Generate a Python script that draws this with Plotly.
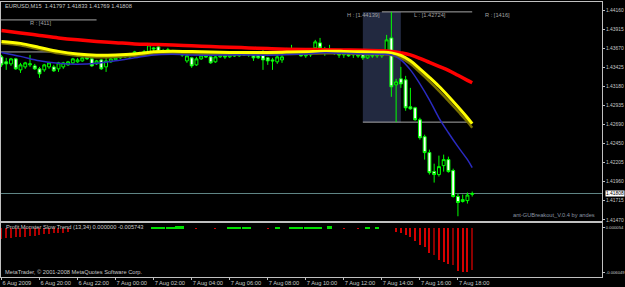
import pandas as pd
import plotly.graph_objects as go

# ---------------- data ----------------
times = pd.date_range("2009-08-06 18:00", periods=100, freq="15min")

open_ = [1.43562, 1.43498, 1.43472, 1.43536, 1.43395, 1.43433, 1.43459, 1.43446, 1.43408, 1.43395,
         1.43433, 1.43433, 1.43408, 1.43433, 1.43459, 1.43485, 1.43498, 1.43510, 1.43562, 1.43536,
         1.43472, 1.43523, 1.43433, 1.43498, 1.43523, 1.43549, 1.43562, 1.43562, 1.43575, 1.43613,
         1.43613, 1.43626, 1.43677, 1.43690, 1.43626, 1.43639, 1.43639, 1.43613, 1.43600, 1.43510,
         1.43549, 1.43459, 1.43536, 1.43575, 1.43562, 1.43498, 1.43562, 1.43575, 1.43562, 1.43587,
         1.43575, 1.43600, 1.43587, 1.43587, 1.43587, 1.43587, 1.43549, 1.43523, 1.43498, 1.43523,
         1.43613, 1.43626, 1.43613, 1.43613, 1.43575, 1.43587, 1.43677, 1.43741, 1.43651, 1.43639,
         1.43626, 1.43600, 1.43587, 1.43613, 1.43587, 1.43587, 1.43613, 1.43549, 1.43587, 1.43575,
         1.43575, 1.43626, 1.43805, 1.43203, 1.43280, 1.43267, 1.42921, 1.42908, 1.42755, 1.42537,
         1.42333, 1.42089, 1.42051, 1.42166, 1.42243, 1.42102, 1.41769, 1.41705, 1.41717, 1.41797]
high_ = [1.43587, 1.43549, 1.43549, 1.43549, 1.43485, 1.43498, 1.43587, 1.43472, 1.43433, 1.43472,
         1.43498, 1.43459, 1.43498, 1.43498, 1.43510, 1.43549, 1.43549, 1.43562, 1.43575, 1.43549,
         1.43523, 1.43536, 1.43562, 1.43549, 1.43562, 1.43587, 1.43600, 1.43613, 1.43639, 1.43626,
         1.43651, 1.43728, 1.43690, 1.43703, 1.43664, 1.43677, 1.43651, 1.43639, 1.43626, 1.43600,
         1.43562, 1.43562, 1.43587, 1.43600, 1.43575, 1.43575, 1.43600, 1.43600, 1.43613, 1.43613,
         1.43613, 1.43626, 1.43626, 1.43613, 1.43600, 1.43651, 1.43562, 1.43549, 1.43587, 1.43587,
         1.43677, 1.43716, 1.43639, 1.43626, 1.43613, 1.43639, 1.43780, 1.43805, 1.43690, 1.43716,
         1.43651, 1.43626, 1.43613, 1.43626, 1.43626, 1.43613, 1.43626, 1.43600, 1.43600, 1.43600,
         1.43626, 1.43844, 1.44139, 1.43280, 1.43433, 1.43318, 1.43164, 1.42921, 1.42780, 1.42563,
         1.42371, 1.42191, 1.42294, 1.42307, 1.42281, 1.42127, 1.41807, 1.41794, 1.41820, 1.41833]
low_ = [1.43433, 1.43395, 1.43446, 1.43395, 1.43356, 1.43408, 1.43433, 1.43395, 1.43292, 1.43369,
        1.43408, 1.43369, 1.43369, 1.43408, 1.43446, 1.43472, 1.43485, 1.43498, 1.43523, 1.43433,
        1.43459, 1.43395, 1.43369, 1.43485, 1.43510, 1.43536, 1.43549, 1.43549, 1.43562, 1.43587,
        1.43587, 1.43613, 1.43613, 1.43613, 1.43600, 1.43613, 1.43600, 1.43587, 1.43562, 1.43485,
        1.43421, 1.43446, 1.43523, 1.43549, 1.43472, 1.43485, 1.43549, 1.43536, 1.43549, 1.43562,
        1.43562, 1.43575, 1.43562, 1.43510, 1.43536, 1.43395, 1.43459, 1.43395, 1.43472, 1.43485,
        1.43587, 1.43600, 1.43587, 1.43562, 1.43549, 1.43562, 1.43651, 1.43651, 1.43575, 1.43626,
        1.43587, 1.43549, 1.43549, 1.43562, 1.43549, 1.43549, 1.43523, 1.43536, 1.43549, 1.43549,
        1.43549, 1.43613, 1.43049, 1.42724, 1.43164, 1.42870, 1.42883, 1.42742, 1.42499, 1.42243,
        1.42051, 1.41948, 1.42025, 1.42089, 1.42076, 1.41756, 1.41516, 1.41692, 1.41679, 1.41769]
close_ = [1.43459, 1.43472, 1.43536, 1.43408, 1.43459, 1.43485, 1.43472, 1.43408, 1.43344, 1.43459,
          1.43485, 1.43382, 1.43485, 1.43485, 1.43498, 1.43536, 1.43523, 1.43549, 1.43536, 1.43446,
          1.43510, 1.43408, 1.43510, 1.43536, 1.43549, 1.43575, 1.43575, 1.43587, 1.43626, 1.43600,
          1.43626, 1.43716, 1.43664, 1.43626, 1.43639, 1.43651, 1.43613, 1.43626, 1.43587, 1.43575,
          1.43446, 1.43536, 1.43575, 1.43562, 1.43485, 1.43562, 1.43575, 1.43562, 1.43587, 1.43575,
          1.43600, 1.43587, 1.43600, 1.43549, 1.43549, 1.43523, 1.43510, 1.43510, 1.43562, 1.43562,
          1.43626, 1.43639, 1.43600, 1.43575, 1.43587, 1.43613, 1.43754, 1.43677, 1.43639, 1.43651,
          1.43613, 1.43587, 1.43600, 1.43575, 1.43600, 1.43575, 1.43549, 1.43587, 1.43575, 1.43587,
          1.43600, 1.43780, 1.43177, 1.43241, 1.43215, 1.42908, 1.42895, 1.42755, 1.42524, 1.42333,
          1.42076, 1.42051, 1.42153, 1.42243, 1.42089, 1.41769, 1.41692, 1.41730, 1.41788, 1.41808]

# moving averages, read at these bar indices
ma_bars = [0, 4, 8, 12, 16, 20, 24, 28, 32, 36, 40, 44, 48, 52, 56, 60, 64, 68, 72, 76, 80,
           82, 84, 86, 88, 90, 92, 94, 96, 98, 99]
ma_red = [1.43899, 1.43869, 1.43837, 1.43805, 1.43780, 1.43760, 1.43744, 1.43728, 1.43721, 1.43713,
          1.43703, 1.43694, 1.43686, 1.43677, 1.43668, 1.43660, 1.43656, 1.43654, 1.43651, 1.43648,
          1.43641, 1.43632, 1.43613, 1.43587, 1.43543, 1.43491, 1.43440, 1.43389, 1.43325, 1.43260,
          1.43229]
ma_yellow = [1.43760, 1.43735, 1.43683, 1.43632, 1.43600, 1.43584, 1.43587, 1.43600, 1.43626, 1.43635,
             1.43630, 1.43623, 1.43619, 1.43619, 1.43619, 1.43623, 1.43628, 1.43635, 1.43632, 1.43626,
             1.43622, 1.43613, 1.43581, 1.43511, 1.43408, 1.43299, 1.43184, 1.43056, 1.42921, 1.42780,
             1.42704]
ma_olive = [1.43735, 1.43709, 1.43658, 1.43607, 1.43575, 1.43558, 1.43562, 1.43575, 1.43600, 1.43609,
            1.43604, 1.43598, 1.43594, 1.43594, 1.43594, 1.43598, 1.43603, 1.43609, 1.43607, 1.43600,
            1.43596, 1.43587, 1.43549, 1.43472, 1.43363, 1.43248, 1.43126, 1.42998, 1.42864, 1.42729,
            1.42652]
ma_blue = [1.43619, 1.43568, 1.43511, 1.43479, 1.43468, 1.43479, 1.43511, 1.43549, 1.43587, 1.43594,
           1.43587, 1.43584, 1.43587, 1.43587, 1.43584, 1.43591, 1.43600, 1.43613, 1.43607, 1.43600,
           1.43596, 1.43587, 1.43523, 1.43395, 1.43216, 1.43011, 1.42780, 1.42588, 1.42409, 1.42242,
           1.42140]

# breakout box and levels
box_high = 1.44139
box_low = 1.42724
prev_high = 1.44036
prev_low = 1.43625
last_price = 1.41808

# indicator (Profit Monster Slow Trend) histogram
ind_red = [-0.00150, -0.00143, -0.00136, -0.00129, -0.00122, -0.00116, -0.00109, -0.00102, -0.00095, -0.00088,
           -0.00081, -0.00074, -0.00067, -0.00061, -0.00054, 0, 0, 0, 0, 0,
           0, 0, 0, 0, 0, 0, 0, 0, 0, 0,
           0, 0, 0, 0, 0, 0, 0, 0, 0, 0,
           0, -0.00008, 0, 0, 0, -0.00008, 0, 0, 0, 0,
           0, 0, 0, 0, 0, 0, -0.00008, 0, 0, 0,
           0, 0, 0, 0, 0, 0, 0, 0, 0, 0,
           0, 0, -0.00008, 0, 0, -0.00008, 0, 0, 0, 0,
           0, 0, 0, -0.00050, -0.00063, -0.00095, -0.00127, -0.00173, -0.00233, -0.00264,
           -0.00347, -0.00370, -0.00439, -0.00462, -0.00494, -0.00508, -0.00586, -0.00600, -0.006049, -0.005743]
ind_green = [0, 0, 0, 0, 0, 0, 0, 0, 0, 0,
             0, 0, 0, 0, 0, 0, 0, 0, 0, 0,
             0, 0, 0, 0, 0, 0, 0, 0, 0, 0,
             0, 0, 0.00018, 0.00018, 0.00018, 0.00018, 0.00018, 0.00026, 0.00026, 0,
             0, 0, 0, 0, 0, 0, 0, 0, 0.00014, 0.00014,
             0.00014, 0.00014, 0.00008, 0, 0, 0, 0, 0, 0.00008, 0,
             0, 0.00014, 0.00014, 0.00014, 0.00014, 0.00018, 0.00018, 0.00018, 0, 0.00024,
             0, 0, 0, 0, 0, 0, 0, 0.00008, 0, 0.00008,
             0, 0, 0, 0, 0, 0, 0, 0, 0, 0,
             0, 0, 0, 0, 0, 0, 0, 0, 0, 0]
dark_red_bars = [91, 95, 99]

price_ticks = [1.44160, 1.43915, 1.43670, 1.43425, 1.43180, 1.42935, 1.42690, 1.42450,
               1.42205, 1.41960, 1.41715, 1.41470]
ind_ticks = [0.000054, -0.006049]
ind_tick_text = ["0.000054", "-0.006049"]
time_tick_bars = [0, 8, 16, 24, 32, 40, 48, 56, 64, 72, 80, 88, 96]
time_tick_text = ["6 Aug 2009", "6 Aug 20:00", "6 Aug 22:00", "7 Aug 00:00", "7 Aug 02:00",
                  "7 Aug 04:00", "7 Aug 06:00", "7 Aug 08:00", "7 Aug 10:00", "7 Aug 12:00",
                  "7 Aug 14:00", "7 Aug 16:00", "7 Aug 18:00"]

# ---------------- figure ----------------
W, H = 625, 287
ML, MR, MT, MB = 1, 23, 2, 10
PW, PH = W - ML - MR, H - MT - MB
FONT = "Liberation Sans"
FS = 5.7
FS_AX = 4.9
FS_IND = 4.2
TXT = "#c8c8c8"
GRID = "#c0c0c0"
bar = pd.Timedelta(minutes=15)


def px(x):
    return (x - ML) / PW


def py(y):
    return 1 - (y - MT) / PH


fig = go.Figure()

ma_x = [times[i] for i in ma_bars]
fig.add_trace(go.Candlestick(
    x=times, open=open_, high=high_, low=low_, close=close_,
    increasing=dict(line=dict(color="#00ff00", width=1), fillcolor="#000000"),
    decreasing=dict(line=dict(color="#00ff00", width=1), fillcolor="#ffffff"),
    whiskerwidth=0, showlegend=False, xaxis="x", yaxis="y"))
fig.add_trace(go.Scatter(x=ma_x, y=ma_red, mode="lines", line=dict(color="#ff0000", width=3.5, shape="spline"),
                         showlegend=False, xaxis="x", yaxis="y"))
fig.add_trace(go.Scatter(x=ma_x, y=ma_olive, mode="lines", line=dict(color="#7a7000", width=2.5, shape="spline"),
                         showlegend=False, xaxis="x", yaxis="y"))
fig.add_trace(go.Scatter(x=ma_x, y=ma_yellow, mode="lines", line=dict(color="#ffff00", width=3, shape="spline"),
                         showlegend=False, xaxis="x", yaxis="y"))
fig.add_trace(go.Scatter(x=ma_x, y=ma_blue, mode="lines", line=dict(color="#2a2ac0", width=1.5, shape="spline"),
                         showlegend=False, xaxis="x", yaxis="y"))

red_cols = ["#8b0000" if i in dark_red_bars else ("#b00000" if i < 20 else "#d40000") for i in range(len(times))]
fig.add_trace(go.Bar(x=times, y=ind_green, marker=dict(color="#00e000", line=dict(width=0)),
                     width=[0.95 * bar.total_seconds() * 1000] * len(times),
                     showlegend=False, xaxis="x2", yaxis="y2"))
fig.add_trace(go.Bar(x=times, y=ind_red, marker=dict(color=red_cols, line=dict(width=0)),
                     width=[0.24 * bar.total_seconds() * 1000] * len(times),
                     showlegend=False, xaxis="x2", yaxis="y2"))

t0 = times[0]
xr = [t0 - 0.1 * bar, t0 + 126.3 * bar]

shapes = [
    dict(type="rect", xref="x", yref="y", x0=times[76], x1=times[84], y0=box_low, y1=box_high,
         fillcolor="#222940", line=dict(width=0), layer="below"),
    dict(type="line", xref="x", yref="y", x0=times[80], x1=times[99], y0=box_high, y1=box_high,
         line=dict(color="#a8a8a8", width=1), layer="below"),
    dict(type="line", xref="x", yref="y", x0=times[76], x1=times[99], y0=box_low, y1=box_low,
         line=dict(color="#a8a8a8", width=1), layer="below"),
    dict(type="line", xref="x", yref="y", x0=t0 - 0.1 * bar, x1=times[20], y0=prev_high, y1=prev_high,
         line=dict(color="#a8a8a8", width=1), layer="below"),
    dict(type="line", xref="x", yref="y", x0=t0 - 0.1 * bar, x1=times[11], y0=prev_low, y1=prev_low,
         line=dict(color="#a8a8a8", width=1), layer="below"),
    dict(type="line", xref="paper", yref="y", x0=0, x1=1, y0=last_price, y1=last_price,
         line=dict(color="#5f8585", width=1), layer="below"),
]


def ann(text, x, y, anchor="left", color=TXT, size=FS):
    return dict(text=text, xref="paper", yref="paper", x=px(x), y=py(y), xanchor=anchor,
                yanchor="middle", showarrow=False, font=dict(family=FONT, size=size, color=color))


annotations = [
    ann("EURUSD,M15  1.41797 1.41833 1.41769 1.41808", 3, 6.5),
    ann("R : [411]", 28, 23.5, color="#a0a0a0"),
    ann("H : [1.44139]", 345, 15, color="#a0a0a0"),
    ann("L : [1.42724]", 412, 15, color="#a0a0a0"),
    ann("R : [1416]", 483, 15, color="#a0a0a0"),
    ann("ant-GUBreakout_V.0.4 by andes", 597, 214.5, anchor="right", color="#8a94a0"),
    ann("Profit Monster Slow Trend (13,34) 0.000000 -0.005743", 4, 226.5),
    ann("MetaTrader, © 2001-2008 MetaQuotes Software Corp.", 3, 272),
    dict(text=f"{last_price:.5f}", xref="paper", yref="y", x=1, y=last_price, xanchor="left",
         yanchor="middle", xshift=3, showarrow=False, bgcolor="#ffffff", borderpad=0,
         font=dict(family=FONT, size=FS_AX, color="#000000")),
]

axis_common = dict(showgrid=False, zeroline=False, showline=True, mirror=True, linecolor=GRID,
                   linewidth=1, automargin=False)

fig.update_layout(
    width=W, height=H, margin=dict(l=ML, r=MR, t=MT, b=MB, autoexpand=False),
    paper_bgcolor="#000000", plot_bgcolor="#000000",
    barmode="overlay", bargap=0, boxgap=0.22, boxgroupgap=0.22,
    font=dict(family=FONT, size=FS, color=TXT),
    shapes=shapes, annotations=annotations, showlegend=False, hovermode=False,
    xaxis=dict(domain=[0, 1], anchor="y", range=xr, showticklabels=False, ticks="",
               rangeslider=dict(visible=False), **axis_common),
    yaxis=dict(domain=[py(221), 1], anchor="x", side="right", range=[1.41455, 1.44266],
               tickmode="array", tickvals=price_ticks, ticktext=[f"{v:.5f}" for v in price_ticks],
               ticks="outside", ticklen=2, tickcolor=GRID, tickfont=dict(family=FONT, size=FS_AX, color=TXT),
               **axis_common),
    xaxis2=dict(domain=[0, 1], anchor="y2", matches="x", range=xr, tickmode="array",
                tickvals=[times[i] for i in time_tick_bars], ticktext=time_tick_text, tickangle=0,
                ticklabelposition="outside right", ticks="outside", ticklen=2, tickcolor=GRID,
                tickfont=dict(family=FONT, size=FS, color=TXT), rangeslider=dict(visible=False),
                **axis_common),
    yaxis2=dict(domain=[0, py(223)], anchor="x2", side="right", range=[-0.00673, 0.00070],
                tickmode="array", tickvals=ind_ticks, ticktext=ind_tick_text,
                ticks="outside", ticklen=2, tickcolor=GRID,
                tickfont=dict(family=FONT, size=FS_IND, color=TXT), **axis_common),
)

fig.write_html("out.html")
